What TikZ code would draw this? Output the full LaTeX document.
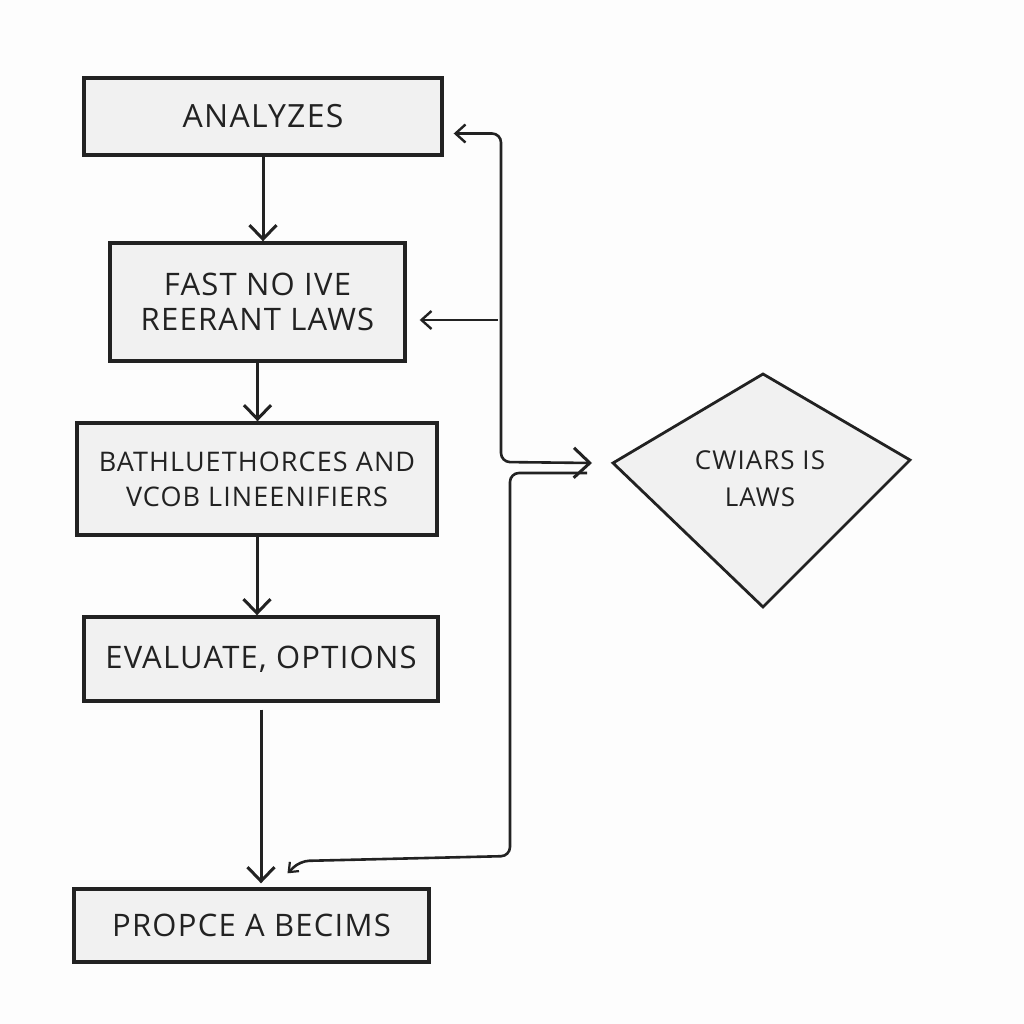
\documentclass[tikz,border=0pt]{standalone}
\usepackage{fontspec}
\setmainfont{Open Sans}[LetterSpace=4]
\usetikzlibrary{arrows.meta,calc}
\definecolor{ink}{HTML}{222222}
\definecolor{boxfill}{HTML}{F1F1F1}
\definecolor{paper}{HTML}{FDFDFD}
\tikzset{
  stepbox/.style={draw=ink,line width=3.4pt,fill=boxfill,inner sep=0pt,align=center,
     font=\fontsize{31}{35}\selectfont,text=ink},
  dectext/.style={inner sep=0pt,align=center,font=\fontsize{26}{37}\selectfont,text=ink},
  flow/.style={draw=ink,line width=3pt,-{Straight Barb[length=14pt,width=27pt,line width=3pt]}},
  link/.style={draw=ink,line width=2.6pt,rounded corners=9pt},
  tipB/.tip={Straight Barb[length=16pt,width=30pt,line width=3pt]},
  tipM/.tip={Straight Barb[length=10pt,width=18pt,line width=2.4pt]},
  tipS/.tip={Straight Barb[length=8pt,width=13pt,line width=2.2pt]}
}
\begin{document}
\begin{tikzpicture}[x=1pt,y=-1pt]
\fill[paper] (0,0) rectangle (1024,1024);
\useasboundingbox (0,0) rectangle (1024,1024);

\node[stepbox,minimum width=358pt,minimum height=77pt,font=\fontsize{32}{36}\selectfont] (b1) at (263,116.5) {ANALYZES};
\node[stepbox,minimum width=295pt,minimum height=118pt] (b2) at (257.5,302) {FAST NO IVE\\REERANT LAWS};
\node[stepbox,minimum width=360pt,minimum height=112pt,font=\fontsize{27}{35}\selectfont] (b3) at (257,479) {BATHLUETHORCES AND\\VCOB LINEENIFIERS};
\node[stepbox,minimum width=354pt,minimum height=84pt] (b4) at (261,659) {EVALUATE, OPTIONS};
\node[stepbox,minimum width=355pt,minimum height=73pt] (b5) at (251.5,925.5) {PROPCE A BECIMS};

% decision (kite-shaped diamond)
\coordinate (dl) at (613,463);
\coordinate (dt) at (763,374);
\coordinate (dr) at (910,460);
\coordinate (db) at (763,607);
\filldraw[draw=ink,fill=boxfill,line width=2.8pt,line join=miter] (dl) -- (dt) -- (dr) -- (db) -- cycle;
\node[dectext] (d) at (760,479) {CWIARS IS\\LAWS};

\coordinate (jt) at (501,462);
\coordinate (tap) at (498,320);
\coordinate (jb) at (510,856);
\coordinate (hook) at (300,861);

\draw[flow] (b1.south) -- (b1.south |- b2.north);
\draw[flow] (b2.south) -- (b2.south |- b3.north);
\draw[flow] (b3.south) -- (b3.south |- b4.north);
\draw[flow] ([yshift=-7pt]b4.south) -- ([yshift=4pt]b4.south |- b5.north);

\draw[link,arrows={tipM-tipB}] ([shift={(10pt,-17pt)}]b1.east) -| (jt) -- ([xshift=-21pt]dl);
\draw[link,arrows={-tipM}] (tap) -- ([shift={(13pt,-18pt)}]b2.east);
\draw[link,arrows={-tipS}] ([shift={(-26pt,-10pt)}]dl) -| (jb) -- (hook) -- ([shift={(36pt,14pt)}]b5.north);
\end{tikzpicture}
\end{document}
